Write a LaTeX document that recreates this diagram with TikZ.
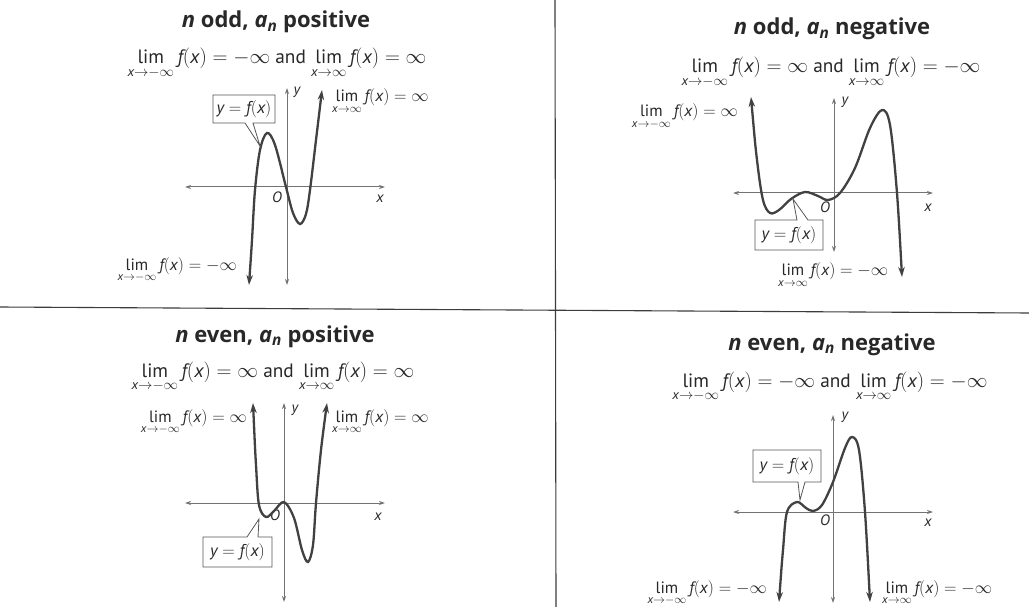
\documentclass[tikz,border=0pt]{standalone}
\usepackage{amsmath}
\usepackage{fontspec}
\setmainfont{PT Sans}
\newfontfamily\ttlfont{Open Sans}
\usetikzlibrary{arrows.meta}
\newcommand{\Lim}[1]{\mathop{\textup{lim}}\limits_{\textit{x}\to#1}}
\newcommand{\fx}{\textit{f}(\textit{x})}
\newcommand{\yfx}{$\textit{y}=\textit{f}(\textit{x})$}
\definecolor{ink}{RGB}{40,40,40}
\definecolor{crv}{RGB}{65,65,65}
\definecolor{axc}{RGB}{115,115,115}
\definecolor{boxc}{RGB}{85,85,85}
\definecolor{rule}{RGB}{60,60,60}
\begin{document}
\begin{tikzpicture}[x=1pt,y=-1pt,
  ttl/.style={font=\ttlfont\fontsize{22}{24}\selectfont\bfseries, text=ink, inner sep=0, anchor=base},
  limline/.style={font=\fontsize{19.3}{21}\selectfont, text=ink, inner sep=0, anchor=base},
  lbl/.style={font=\fontsize{16.4}{18}\selectfont, text=ink, inner sep=0},
  axlbl/.style={font=\fontsize{15}{17}\selectfont\itshape, text=ink, inner sep=0},
  curve/.style={draw=crv, line width=2.3pt, {Stealth[length=10pt,width=6.5pt]}-{Stealth[length=10pt,width=6.5pt]}},
  axis/.style={draw=axc, line width=1pt, {Stealth[length=6pt,width=4pt]}-{Stealth[length=6pt,width=4pt]}},
  callout/.style={draw=boxc, line width=0.8pt, fill=white},
  boxtext/.style={font=\fontsize{17}{19}\selectfont, text=ink, inner sep=0}]
\useasboundingbox (0,0) rectangle (1029,607);
\fill[white] (0,0) rectangle (1029,607);
% dividers
\draw[rule, line width=1.1pt] (555,0) -- (556,607);
\draw[rule, line width=1.1pt] (0,307) -- (1029,313);

% ---------------- Q1: n odd, a_n positive
\node[ttl] (t1) at (276,28) {\textit{n} odd, \textit{a}\textsubscript{\textit{n}} positive};
\node[limline] (l1) at (277,64) {$\Lim{-\infty}\fx=-\infty$ and $\Lim{\infty}\fx=\infty$};
\draw[axis] (185,187) -- (385,187);
\draw[axis] (287,285) -- (287,88);
\node[axlbl] (x1) at (380,199) {x};
\node[axlbl] (y1) at (297,92) {y};
\node[axlbl] (o1) at (277,197) {O};
\draw[curve] plot[smooth, tension=0.55] coordinates {(249,285) (252,240) (255,190) (260,150) (267,133) (275,145) (286,187) (293,213) (300,224) (306,214) (310,190) (316,140) (322,90)};
\draw[callout] (213,95) -- (275,95) -- (275,123) -- (253,123) -- (260,146) -- (245,123) -- (213,123) -- cycle;
\node[boxtext] (c1) at (244,109) {\yfx};
\node[lbl, anchor=base west] (r1) at (332,102) {$\Lim{\infty}\fx=\infty$};
\node[lbl, anchor=base east] (b1) at (237,270) {$\Lim{-\infty}\fx=-\infty$};

% ---------------- Q2: n odd, a_n negative
\node[ttl] (t2) at (832,35) {\textit{n} odd, \textit{a}\textsubscript{\textit{n}} negative};
\node[limline] (l2) at (831,73) {$\Lim{-\infty}\fx=\infty$ and $\Lim{\infty}\fx=-\infty$};
\draw[axis] (733,193) -- (933,193);
\draw[axis] (834,252) -- (834,98);
\node[axlbl] (x2) at (928,208) {x};
\node[axlbl] (y2) at (845,102) {y};
\node[axlbl] (o2) at (825,207) {O};
\draw[curve] plot[smooth, tension=0.55] coordinates {(751,97) (757,160) (763,200) (770,213) (779,210) (791,199) (805,192) (818,196) (828,200) (840,193) (855,168) (870,128) (882,110) (890,125) (897,193) (902,277)};
\draw[callout] (755,220) -- (797,220) -- (793,199) -- (808,220) -- (823,220) -- (823,250) -- (755,250) -- cycle;
\node[boxtext] (c2) at (789,235) {\yfx};
\node[lbl, anchor=base east] (r2) at (738,117) {$\Lim{-\infty}\fx=\infty$};
\node[lbl, anchor=base west] (b2) at (778,276) {$\Lim{\infty}\fx=-\infty$};

% ---------------- Q3: n even, a_n positive
\node[ttl] (t3) at (275,342) {\textit{n} even, \textit{a}\textsubscript{\textit{n}} positive};
\node[limline] (l3) at (273,377) {$\Lim{-\infty}\fx=\infty$ and $\Lim{\infty}\fx=\infty$};
\draw[axis] (185,503) -- (385,503);
\draw[axis] (284,602) -- (284,403);
\node[axlbl] (x3) at (378,517) {x};
\node[axlbl] (y3) at (295,410) {y};
\node[axlbl] (o3) at (275,515) {O};
\draw[curve] plot[smooth, tension=0.55] coordinates {(253,403) (256,465) (259,505) (266,517) (274,511) (284,502) (294,518) (302,550) (308,562) (313,545) (316,503) (321,450) (327,403)};
\draw[callout] (203,537) -- (247,537) -- (259,519) -- (258,537) -- (272,537) -- (272,567) -- (203,567) -- cycle;
\node[boxtext] (c3) at (237.5,552) {\yfx};
\node[lbl, anchor=base east] (r3) at (247,422) {$\Lim{-\infty}\fx=\infty$};
\node[lbl, anchor=base west] (b3) at (332,422) {$\Lim{\infty}\fx=\infty$};

% ---------------- Q4: n even, a_n negative
\node[ttl] (t4) at (832,350) {\textit{n} even, \textit{a}\textsubscript{\textit{n}} negative};
\node[limline] (l4) at (830,387) {$\Lim{-\infty}\fx=-\infty$ and $\Lim{\infty}\fx=-\infty$};
\draw[axis] (733,512) -- (933,512);
\draw[axis] (833,603) -- (833,415);
\node[axlbl] (x4) at (928,523) {x};
\node[axlbl] (y4) at (845,417) {y};
\node[axlbl] (o4) at (825,520) {O};
\draw[curve] plot[smooth, tension=0.55] coordinates {(779,602) (783,550) (787,512) (797,502) (806,508) (813,511) (822,505) (833,482) (845,448) (852,437) (859,450) (865,512) (870,602)};
\draw[callout] (753,450) -- (821,450) -- (821,482) -- (805,482) -- (800,500) -- (798,482) -- (753,482) -- cycle;
\node[boxtext] (c4) at (787,466) {\yfx};
\node[lbl, anchor=base east] (r4) at (767,593) {$\Lim{-\infty}\fx=-\infty$};
\node[lbl, anchor=base west] (b4) at (882,593) {$\Lim{\infty}\fx=-\infty$};
\end{tikzpicture}
\end{document}
